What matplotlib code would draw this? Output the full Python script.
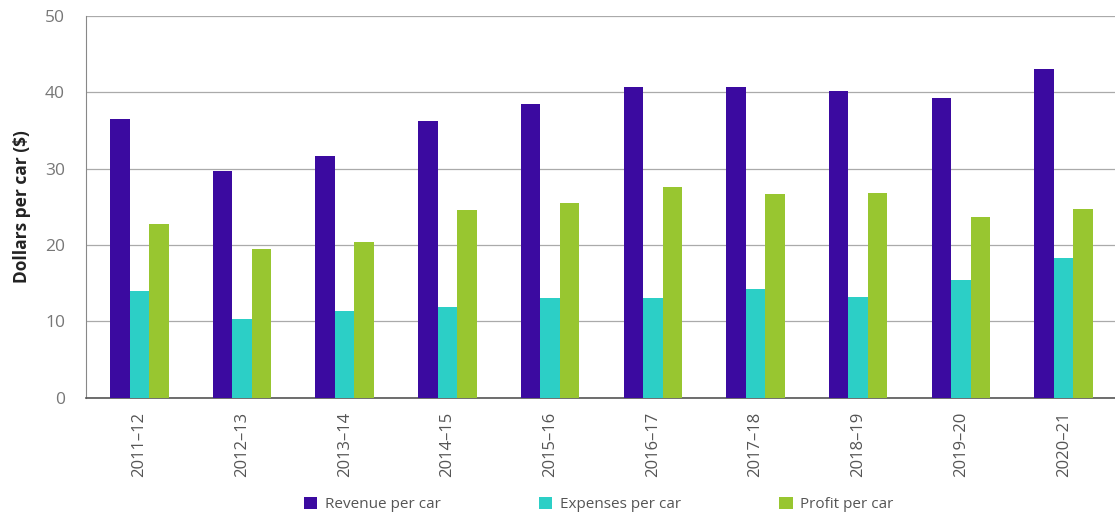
import matplotlib.pyplot as plt
import numpy as np

plt.rcParams["font.family"] = ["Open Sans", "DejaVu Sans"]

years = ["2011-12", "2012-13", "2013-14", "2014-15", "2015-16",
         "2016-17", "2017-18", "2018-19", "2019-20", "2020-21"]
revenue = [36.5, 29.7, 31.7, 36.3, 38.5, 40.7, 40.7, 40.2, 39.3, 43.1]
expenses = [14.0, 10.3, 11.4, 11.9, 13.1, 13.1, 14.3, 13.2, 15.4, 18.3]
profit = [22.8, 19.5, 20.4, 24.6, 25.5, 27.6, 26.7, 26.8, 23.7, 24.7]

series = [
    ("Revenue per car", revenue, "#3b0aa0"),
    ("Expenses per car", expenses, "#2ccfc6"),
    ("Profit per car", profit, "#98c630"),
]

fig = plt.figure(figsize=(11.15, 5.18), dpi=100)
ax = fig.add_axes([0.077, 0.232, 0.923, 0.737])

x = np.arange(len(years))
width = 0.19
for i, (label, vals, color) in enumerate(series):
    ax.bar(x + (i - 1) * width, vals, width, color=color, label=label, zorder=3)

ax.set_xlim(-0.52, 9.5)
ax.set_ylim(0, 50)
ax.set_yticks([0, 10, 20, 30, 40, 50])
ax.set_xticks(x)
ax.set_xticklabels([y.replace("-", "\u2013") for y in years], rotation=90,
                   fontsize=12, color="#555555")
ax.tick_params(axis="y", length=0, labelsize=12.5, labelcolor="#777777", pad=15)
ax.tick_params(axis="x", length=0, pad=10)
ax.grid(axis="y", color="#aaaaaa", linewidth=0.9, zorder=0)

for side in ["top", "right"]:
    ax.spines[side].set_visible(False)
ax.spines["left"].set_color("#888888")
ax.spines["bottom"].set_color("#555555")
ax.spines["bottom"].set_linewidth(1.2)

ax.set_ylabel("Dollars per car ($)", fontsize=12.5, fontweight="bold", color="#222222", labelpad=10)

fig.legend(*ax.get_legend_handles_labels(), loc="center", bbox_to_anchor=(0.537, 0.026),
           ncol=3, frameon=False, fontsize=11, handlelength=0.9, handleheight=0.9,
           columnspacing=6.4, handletextpad=0.5, labelcolor="#555555")

fig.savefig("out.png", dpi=100)
